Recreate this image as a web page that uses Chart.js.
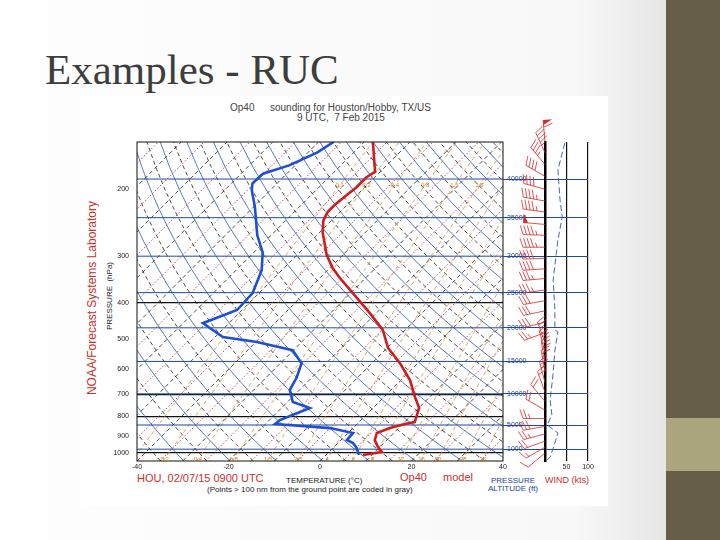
<!DOCTYPE html>
<html>
<head>
<meta charset="utf-8">
<script src="https://cdn.jsdelivr.net/npm/chart.js@4.4.1/dist/chart.umd.min.js"></script>
<style>
  html, body { margin: 0; padding: 0; }
  body { width: 720px; height: 540px; position: relative; overflow: hidden;
         background: linear-gradient(to right, #fefefe 0%, #f8f8f8 80%, #e6e6e6 92.5%);
         font-family: 'Liberation Sans', Arial, sans-serif; }
  #bar { position: absolute; left: 666px; top: 0; width: 54px; height: 540px; background: #655e48; }
  #block { position: absolute; left: 666px; top: 418px; width: 54px; height: 53px; background: #aaa67d; }
  #title { position: absolute; left: 45px; top: 48px; font-family: 'Liberation Serif', serif;
           font-size: 43px; line-height: 43px; color: #3d3d3d; white-space: nowrap; }
  #img { position: absolute; left: 80px; top: 96px; width: 528px; height: 410px; background: #fff; }
  canvas { position: absolute; left: 0; top: 0; }
  .t { position: absolute; white-space: pre; line-height: 1; }
  .red { color: #c8302e; }
  .blue { color: #2443a0; }
</style>
</head>
<body>
<div id="bar"></div>
<div id="block"></div>
<div id="title">Examples - RUC</div>
<div id="img"></div>

<div class="t" style="left:230px;top:103px;font-size:10px;color:#444">Op40</div>
<div class="t" style="left:270px;top:103px;font-size:10px;color:#444">sounding for Houston/Hobby, TX/US</div>
<div class="t" style="left:297px;top:113px;font-size:10px;color:#444">9 UTC,  7 Feb 2015</div>
<div class="t red" style="left:-13px;top:292px;width:210px;text-align:center;font-size:12px;transform:rotate(-90deg)">NOAA/Forecast Systems Laboratory</div>
<div class="t" style="left:70px;top:292px;width:80px;text-align:center;font-size:8px;color:#222;transform:rotate(-90deg)">PRESSURE  (hPa)</div>
<div class="t red" style="left:137px;top:473px;font-size:11px">HOU, 02/07/15 0900 UTC</div>
<div class="t" style="left:286px;top:477px;font-size:8px;color:#222">TEMPERATURE (°C)</div>
<div class="t" style="left:207px;top:486px;font-size:8px;color:#222">(Points &gt; 100 nm from the ground point are coded in gray)</div>
<div class="t red" style="left:400px;top:472px;font-size:11px">Op40</div>
<div class="t red" style="left:443px;top:472px;font-size:11px">model</div>
<div class="t blue" style="left:483px;top:477px;width:60px;text-align:center;font-size:8px">PRESSURE</div>
<div class="t blue" style="left:483px;top:485px;width:60px;text-align:center;font-size:8px">ALTITUDE (ft)</div>
<div class="t red" style="left:545px;top:476px;font-size:9px">WIND (kts)</div>

<canvas id="skewt" width="720" height="540"></canvas>
<canvas id="wind" width="720" height="540"></canvas>

<script>
// Ejes del diagrama
const P_BOTTOM = 1050;
const P_TOP = 150;
const SKEW = 35.8;   // desplazamiento en °C por unidad de ln(p): isotermas a 45°

const pressureTicks = [1000, 900, 800, 700, 600, 500, 400, 300, 200];
const tempTicks = [-40, -20, 0, 20, 40];
const blackLevels = [1000, 800, 700, 400];

// Temperatura (rojo)
const tempP = [150, 180, 186, 198, 207, 220, 230, 242, 260, 299, 324, 344, 377, 426, 472, 527, 578, 641, 711, 760, 828, 838, 859, 885, 924, 964, 994, 1000, 1012];
const tempC = [-58.1, -51.1, -51.8, -51.8, -52.2, -52.7, -52.7, -51.8, -49.4, -43.5, -39.3, -35.6, -29.5, -21.4, -14.9, -9.8, -3.9, 2.0, 6.8, 10.1, 12.2, 10.5, 8.1, 6.3, 7.4, 9.6, 11.6, 10.3, 8.1];

// Punto de rocío (azul)
const dewP = [150, 160, 173, 182, 193, 201, 223, 265, 294, 328, 377, 418, 453, 493, 508, 534, 578, 629, 681, 733, 760, 818, 838, 859, 885, 924, 941, 970, 1012];
const dewC = [-66.7, -68.0, -71.3, -75.2, -75.4, -74.1, -69.7, -63.0, -58.1, -54.4, -51.4, -51.1, -55.7, -48.3, -39.8, -30.2, -25.4, -23.4, -22.1, -18.8, -13.8, -17.7, -17.9, -5.0, 1.1, 1.3, 3.3, 5.2, 7.2];

// Altitud (ft) y su presión
const altFeet = [1000, 5000, 10000, 15000, 20000, 25000, 30000, 35000, 40000];
const altP = [977, 843, 697, 572, 466, 376, 301, 238, 188];

// Viento: presión, dirección (grados), velocidad (kts)
const windP = [150, 160, 172, 185, 200, 215, 230, 248, 265, 285, 305, 325, 345, 370, 395, 420, 450, 480, 510, 540, 575, 610, 650, 690, 730, 770, 810, 850, 890, 930, 965, 1000];
const windDir = [355, 335, 320, 300, 285, 280, 278, 275, 272, 270, 268, 266, 265, 262, 260, 258, 255, 250, 340, 345, 350, 350, 345, 340, 320, 300, 270, 260, 255, 250, 240, 230];
const windKt = [60, 45, 35, 40, 40, 45, 45, 50, 45, 45, 40, 40, 35, 35, 30, 30, 30, 25, 25, 30, 30, 25, 25, 20, 20, 20, 25, 30, 25, 20, 15, 10];

// Línea azul del panel de viento
const speedP = [151, 178, 214, 237, 273, 348, 418, 472, 478, 534, 614, 724, 793, 843, 885, 941, 1025, 1043];
const speedKt = [46, 30, 35, 40, 30, 19, 23, 23, 30, 23, 19, 12, 16, 5, 30, 23, 12, 5];

// Líneas de referencia
const mixRatios = [0.1, 0.2, 0.4, 0.8, 1.5, 2.5, 4, 6, 8, 12, 16, 20, 28, 36];
const isotherms = [-110, -100, -90, -80, -70, -60, -50, -40, -30, -20, -10, 0, 10, 20, 30, 40];

const levels = [];
for (let p = P_BOTTOM; p >= P_TOP; p -= 25) levels.push(p);

const skewX = (t, p) => t + SKEW * Math.log(P_BOTTOM / p);
const dewFromMix = (w, p) => {
  const l = Math.log((w * p / (622 + w)) / 6.112);
  return 243.5 * l / (17.67 - l);
};
const line = (points, color, width, dash, order) => ({
  data: points, showLine: true, pointRadius: 0, borderColor: color,
  borderWidth: width, borderDash: dash, order: order, tension: 0
});

const datasets = [];
datasets.push(line(tempP.map((p, i) => ({ x: skewX(tempC[i], p), y: p })), '#d01c1c', 2.6, [], 0));
datasets.push(line(dewP.map((p, i) => ({ x: skewX(dewC[i], p), y: p })), '#1f4ed6', 2.6, [], 0));
altP.forEach(p => datasets.push(line([{ x: -40, y: p }, { x: 40, y: p }], '#1d4aa0', 1, [], 1)));
isotherms.forEach(t => {
  datasets.push(line([{ x: skewX(t, P_BOTTOM), y: P_BOTTOM }, { x: skewX(t, P_TOP), y: P_TOP }], '#111', 0.75, [4, 3], 3));
  datasets.push(line([{ x: skewX(t + 5, P_BOTTOM), y: P_BOTTOM }, { x: skewX(t + 5, P_TOP), y: P_TOP }], '#b03a62', 0.9, [1.5, 2], 3));
});
for (let th = 230; th <= 430; th += 5) {
  const pts = levels.map(p => ({ x: skewX(th * Math.pow(p / 1000, 0.286) - 273.15, p), y: p }));
  if (th % 10 === 0) datasets.push(line(pts, '#2f58b0', 0.8, [], 3));
  else datasets.push(line(pts, '#111', 0.75, [4, 3], 3));
}
mixRatios.forEach(w => {
  datasets.push(line(levels.map(p => ({ x: skewX(dewFromMix(w, p), p), y: p })), '#d0903a', 0.8, [4, 3], 2));
});

const tickFont = { family: 'Liberation Sans', size: 7 };

const frame = {
  id: 'frame',
  afterDatasetsDraw(chart) {
    const { ctx, chartArea: a } = chart;
    ctx.save();
    ctx.strokeStyle = '#111';
    ctx.lineWidth = 1;
    ctx.strokeRect(a.left, a.top, a.right - a.left, a.bottom - a.top);
    ctx.restore();
  }
};

const mixLabels = {
  id: 'mixLabels',
  afterDatasetsDraw(chart) {
    const { ctx, chartArea: a, scales: { x, y } } = chart;
    ctx.save();
    ctx.font = '6px Liberation Sans';
    ctx.fillStyle = '#c8862a';
    ctx.textAlign = 'center';
    ctx.textBaseline = 'middle';
    mixRatios.forEach(w => {
      [1037, 195].forEach(p => {
        const px = x.getPixelForValue(skewX(dewFromMix(w, p), p));
        if (px > a.left + 4 && px < a.right - 4) ctx.fillText(String(w), px, y.getPixelForValue(p));
      });
    });
    ctx.restore();
  }
};

new Chart(document.getElementById('skewt'), {
  type: 'scatter',
  data: { datasets: datasets },
  options: {
    responsive: false,
    animation: false,
    layout: { autoPadding: false, padding: { left: 107, top: 142, right: 217, bottom: 67 } },
    plugins: { legend: { display: false }, tooltip: { enabled: false } },
    scales: {
      x: {
        type: 'linear', min: -40, max: 40,
        afterBuildTicks(s) { s.ticks = tempTicks.map(v => ({ value: v })); },
        ticks: { font: tickFont, color: '#222', padding: 2, maxRotation: 0, autoSkip: false, callback: v => String(v) },
        grid: { display: false, drawTicks: false }, border: { display: false },
        afterFit(s) { s.height = 12; s.paddingLeft = 0; s.paddingRight = 0; }
      },
      y: {
        type: 'logarithmic', reverse: true, min: P_TOP, max: P_BOTTOM,
        afterBuildTicks(s) { s.ticks = pressureTicks.map(v => ({ value: v })); },
        ticks: { font: tickFont, color: '#222', padding: 8, autoSkip: false, callback: v => String(v) },
        grid: { color: c => blackLevels.includes(c.tick && c.tick.value) ? '#111' : 'rgba(0,0,0,0)', lineWidth: 1.2, drawTicks: false },
        border: { display: false },
        afterFit(s) { s.width = 30; s.paddingTop = 0; s.paddingBottom = 0; }
      }
    }
  },
  plugins: [frame, mixLabels]
});

function drawBarb(ctx, x0, y0, dir, kt) {
  const a = dir * Math.PI / 180;
  const ux = Math.sin(a), uy = -Math.cos(a);
  const nx = -uy, ny = ux;
  const L = 22, F = 9;
  const at = d => [x0 + ux * d, y0 + uy * d];
  ctx.beginPath();
  ctx.moveTo(x0, y0);
  ctx.lineTo(...at(L));
  ctx.stroke();
  let rest = Math.round(kt / 5) * 5;
  let d = L;
  while (rest >= 50) {
    const [bx, by] = at(d);
    const [cx, cy] = at(d - 5);
    ctx.beginPath();
    ctx.moveTo(bx, by);
    ctx.lineTo(bx + nx * F, by + ny * F);
    ctx.lineTo(cx, cy);
    ctx.closePath();
    ctx.fill();
    d -= 7;
    rest -= 50;
  }
  while (rest >= 10) {
    const [bx, by] = at(d);
    ctx.beginPath();
    ctx.moveTo(bx, by);
    ctx.lineTo(bx + nx * F + ux * 3, by + ny * F + uy * 3);
    ctx.stroke();
    d -= 3.5;
    rest -= 10;
  }
  if (rest >= 5) {
    const [bx, by] = at(d);
    ctx.beginPath();
    ctx.moveTo(bx, by);
    ctx.lineTo(bx + nx * F / 2 + ux * 1.5, by + ny * F / 2 + uy * 1.5);
    ctx.stroke();
  }
}

const windBarbs = {
  id: 'windBarbs',
  afterDatasetsDraw(chart) {
    const { ctx, scales: { x, y } } = chart;
    ctx.save();
    ctx.strokeStyle = '#d42a2a';
    ctx.fillStyle = '#d42a2a';
    ctx.lineWidth = 0.8;
    windP.forEach((p, i) => drawBarb(ctx, x.getPixelForValue(0), y.getPixelForValue(p), windDir[i], windKt[i]));
    ctx.restore();
  }
};

new Chart(document.getElementById('wind'), {
  type: 'scatter',
  data: {
    datasets: [line(speedP.map((p, i) => ({ x: speedKt[i], y: p })), '#2a55c0', 0.9, [6, 3], 0)]
  },
  options: {
    responsive: false,
    animation: false,
    layout: { autoPadding: false, padding: { left: 507, top: 142, right: 132, bottom: 67 } },
    plugins: { legend: { display: false }, tooltip: { enabled: false } },
    scales: {
      x: {
        type: 'linear', min: 0, max: 100,
        ticks: { stepSize: 50, font: tickFont, color: '#222', padding: 2, maxRotation: 0, callback: v => v === 0 ? '' : String(v) },
        grid: { color: c => c.tick && c.tick.value === 0 ? 'rgba(0,0,0,0)' : '#111', lineWidth: 1.2, drawTicks: false },
        border: { display: false },
        afterFit(s) { s.height = 12; s.paddingLeft = 0; s.paddingRight = 0; }
      },
      y: {
        type: 'logarithmic', reverse: true, min: P_TOP, max: P_BOTTOM,
        afterBuildTicks(s) { s.ticks = altP.map(v => ({ value: v })); },
        ticks: {
          font: { family: 'Liberation Sans', size: 7 }, color: '#2443a0', crossAlign: 'far', autoSkip: false,
          callback: v => { const i = altP.indexOf(v); return i >= 0 ? String(altFeet[i]) : ''; }
        },
        grid: { color: '#1d4aa0', lineWidth: 1, tickLength: 42 },
        border: { display: true, color: '#000', width: 2.5 },
        afterFit(s) { s.width = 38; s.paddingTop = 0; s.paddingBottom = 0; }
      }
    }
  },
  plugins: [windBarbs]
});
</script>
</body>
</html>
